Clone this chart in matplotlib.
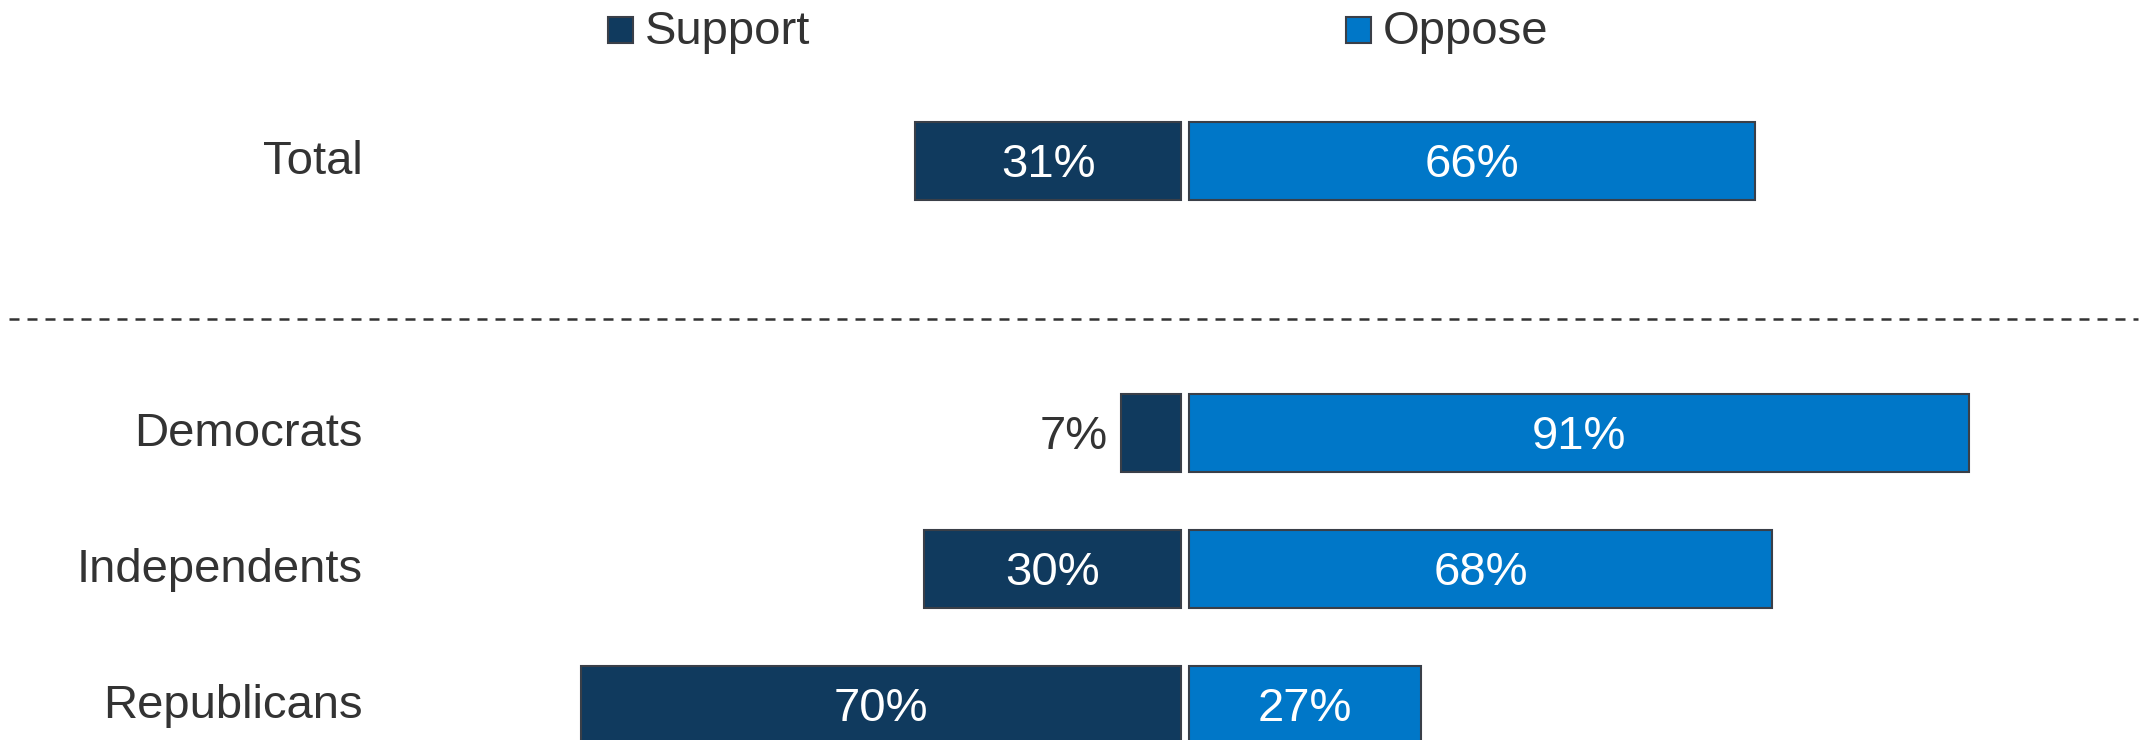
import matplotlib.pyplot as plt
from matplotlib.patches import Rectangle

plt.rcParams['font.family'] = ['Liberation Sans', 'DejaVu Sans']

groups = ['Total', 'Democrats', 'Independents', 'Republicans']
rows = [0, 2, 3, 4]
support = [31, 7, 30, 70]
oppose = [66, 91, 68, 27]
series = ['Support', 'Oppose']

navy = '#103a5e'
blue = '#0077c8'
grey = '#333333'
edge = '#3a3f48'

gap = 0.47      # half gap between the two bars, in percent units
height = 0.575
fs = 34

fig = plt.figure(figsize=(21.44, 7.40), dpi=100)
ax = fig.add_axes([0, 0, 1, 1])
ax.set_xlim(-138.3, 111.9)
ax.set_ylim(4.257, -1.184)
ax.axis('off')

ax.barh(rows, support, left=[-gap - s for s in support], height=height,
        color=navy, edgecolor=edge, linewidth=1.5)
ax.barh(rows, oppose, left=gap, height=height,
        color=blue, edgecolor=edge, linewidth=1.5)

for r, s, o in zip(rows, support, oppose):
    if s >= 10:
        ax.text(-gap - s / 2, r + 0.03, f'{s}%', ha='center', va='center',
                color='white', fontsize=fs)
    else:
        ax.text(-gap - s - 1.6, r + 0.03, f'{s}%', ha='right', va='center',
                color=grey, fontsize=fs)
    ax.text(gap + o / 2, r + 0.03, f'{o}%', ha='center', va='center',
            color='white', fontsize=fs)

for r, g in zip(rows, groups):
    ax.text(-96.0, r + 0.01, g, ha='right', va='center', color=grey, fontsize=fs)

# separator between total and party rows
ax.plot([-137.2, 111.2], [1.162, 1.162], color=grey, linewidth=1.8,
        linestyle=(0, (4, 3.2)))

# legend
legend_x = [-67.3, 18.8]
for x0, name, c in zip(legend_x, series, [navy, blue]):
    ax.add_patch(Rectangle((x0, -0.963 - 0.095), 2.9, 0.19, facecolor=c,
                           edgecolor=edge, linewidth=1.5, clip_on=False))
    ax.text(x0 + 4.3, -0.95, name, ha='left', va='center', color=grey,
            fontsize=fs)

fig.savefig('out.png', dpi=100)
